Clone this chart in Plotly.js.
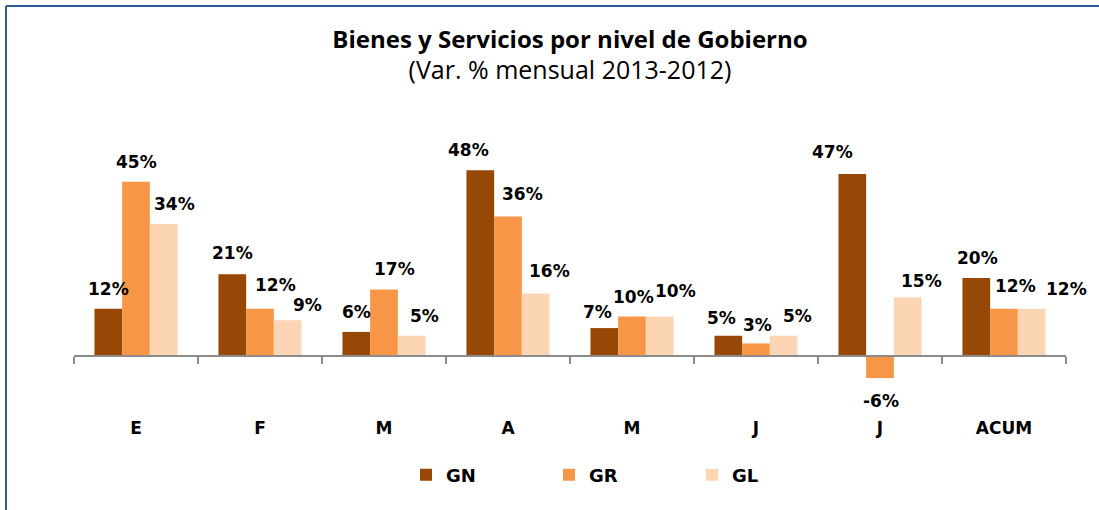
<!DOCTYPE html>
<html>
<head>
<meta charset="utf-8">
<script src="https://cdn.plot.ly/plotly-3.0.1.min.js"></script>
<style>
html,body{margin:0;padding:0;background:#fff;}
#chart{width:1099px;height:510px;}
</style>
</head>
<body>
<div id="chart"></div>
<script>
// ---- data ----
const categories = ['E', 'F', 'M', 'A', 'M', 'J', 'J', 'ACUM'];
const seriesNames = ['GN', 'GR', 'GL'];
const gnValues = [12, 21, 6, 48, 7, 5, 47, 20];
const grValues = [45, 12, 17, 36, 10, 3, -6, 12];
const glValues = [34, 9, 5, 16, 10, 5, 15, 12];

// ---- styling / layout config ----
const colors = ['#974706', '#F79646', '#FCD5B4'];
const FONT = 'DejaVu Sans, Verdana, sans-serif';
const TITLE_FONT = 'Open Sans, DejaVu Sans, sans-serif';
const W = 1099, H = 510;
const mL = 74, mR = 33, mT = 140, mB = 120;
const plotW = W - mL - mR, plotH = H - mT - mB;
const pxPerUnit = 3.85;
const yMin = -35 / pxPerUnit, yMax = 215 / pxPerUnit;
const bargap = 0.33;
const barPx = (plotW / categories.length) * (1 - bargap) / 3;
// label nudges [dx px, dy px of label centre beyond bar end], indexed [series][category]
const nudges = [
  [[0,20],[0,21],[0,20],[-12,20],[-7,16],[-7,18],[-20,22],[1,20]],
  [[0,20],[15,24],[10,21],[14,22],[1,20],[1,18],[1,23],[11,23]],
  [[11,20],[20,15],[13,20],[14,22],[16,26],[14,20],[14,16],[35,20]]
];

const seriesValues = [gnValues, grValues, glValues];
const xIdx = categories.map((c, i) => i);

const traces = seriesValues.map((vals, s) => ({
  type: 'bar',
  name: seriesNames[s],
  x: xIdx,
  y: vals,
  marker: {color: colors[s], line: {width: 0}},
  hoverinfo: 'none'
}));

const annotations = [];
seriesValues.forEach((vals, s) => {
  vals.forEach((v, j) => {
    const nd = nudges[s][j];
    annotations.push({
      x: j, y: v, xref: 'x', yref: 'y',
      text: '<b>' + v + '%</b>',
      showarrow: false,
      xanchor: 'center', yanchor: 'middle',
      xshift: (s - 1) * barPx + nd[0],
      yshift: v >= 0 ? nd[1] : -nd[1],
      font: {family: FONT, size: 17, color: '#000'}
    });
  });
});

const pxToPaperX = px => (px - mL) / plotW;
const pxToPaperY = py => (H - mB - py) / plotH;
const borderColor = '#2F5A98';
const shapes = [
  {type: 'line', xref: 'paper', yref: 'paper',
   x0: pxToPaperX(6), x1: pxToPaperX(1105), y0: pxToPaperY(6), y1: pxToPaperY(6),
   line: {color: borderColor, width: 2}},
  {type: 'line', xref: 'paper', yref: 'paper',
   x0: pxToPaperX(6), x1: pxToPaperX(6), y0: pxToPaperY(6), y1: pxToPaperY(520),
   line: {color: borderColor, width: 2}}
];

const boundaries = [];
for (let i = 0; i <= categories.length; i++) boundaries.push(i - 0.5);

const layout = {
  width: W, height: H,
  margin: {l: mL, r: mR, t: mT, b: mB, pad: 0},
  paper_bgcolor: '#fff', plot_bgcolor: '#fff',
  font: {family: FONT, color: '#000'},
  title: {
    text: '<b>Bienes y Servicios por nivel de Gobierno</b><br><span style="font-size:25px">(Var. % mensual 2013-2012)</span>',
    font: {family: TITLE_FONT, size: 24, color: '#000'},
    x: 0.5, xref: 'paper', xanchor: 'center',
    y: 1 - 48 / H, yref: 'container', yanchor: 'top'
  },
  barmode: 'group',
  bargap: bargap,
  bargroupgap: 0,
  showlegend: true,
  legend: {
    orientation: 'h',
    x: pxToPaperX(406), xanchor: 'left',
    y: pxToPaperY(475), yanchor: 'middle',
    entrywidth: 98, entrywidthmode: 'pixels',
    font: {family: FONT, size: 18, color: '#000', weight: 'bold'},
    traceorder: 'normal',
    itemclick: false, itemdoubleclick: false
  },
  xaxis: {
    range: [-0.5, categories.length - 0.5],
    tickmode: 'array',
    tickvals: xIdx,
    ticktext: categories.map(c => '<b>' + c + '</b>'),
    ticks: '',
    tickfont: {family: FONT, size: 17, color: '#000'},
    ticklabelstandoff: 57,
    showline: true, linecolor: '#8C8C8C', linewidth: 1.5,
    showgrid: false, zeroline: false,
    anchor: 'free', position: (0 - yMin) / (yMax - yMin),
    minor: {tickmode: 'array', tickvals: boundaries, ticks: 'outside', ticklen: 7, tickcolor: '#8C8C8C', tickwidth: 1.5, showgrid: false},
    fixedrange: true
  },
  yaxis: {
    range: [yMin, yMax],
    visible: false,
    showgrid: false, zeroline: false,
    fixedrange: true
  },
  annotations: annotations,
  shapes: shapes
};

Plotly.newPlot('chart', traces, layout, {displayModeBar: false, staticPlot: true});
</script>
</body>
</html>
